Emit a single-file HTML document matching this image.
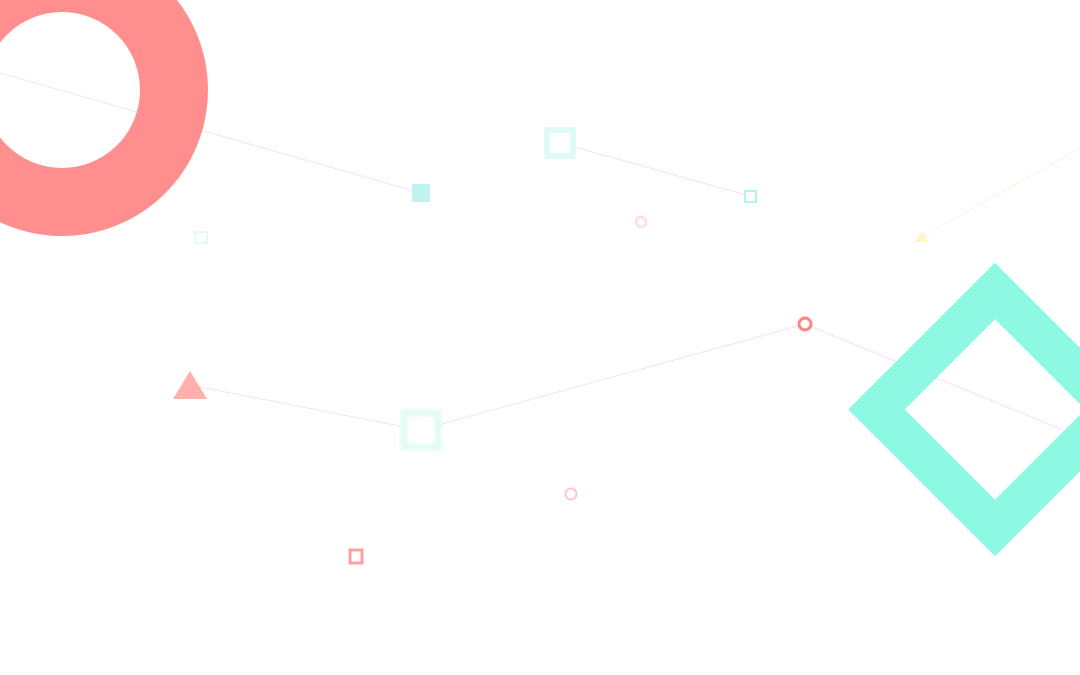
<!DOCTYPE html>
<html><head><style>html,body{margin:0;padding:0;background:#fff;}svg{display:block}</style></head>
<body>
<svg width="1080" height="675" viewBox="0 0 1080 675" xmlns="http://www.w3.org/2000/svg">
<defs><filter id="b" x="-50%" y="-50%" width="200%" height="200%"><feGaussianBlur stdDeviation="1.5"/></filter></defs>
<g stroke="#f8def8" stroke-width="1" fill="none">
<line x1="0" y1="73" x2="421" y2="193"/>
<line x1="560" y1="143" x2="750" y2="196"/>
<line x1="922" y1="237" x2="1080" y2="148" stroke="#fbf3e4"/>
<polyline points="190,385 420,430 805,324 1075,435"/>
</g>
<circle cx="62" cy="90" r="112" fill="none" stroke="#ff8f8f" stroke-width="68"/>
<polygon points="995,291 1113.5,409.5 995,528 876.5,409.5" fill="none" stroke="#8ef9e2" stroke-width="40"/>
<rect x="412" y="184" width="18" height="18" rx="1" fill="#c0f3ef"/>
<rect x="547" y="130" width="26" height="26" fill="#fff" stroke="#e0fbf6" stroke-width="6"/>
<rect x="745" y="191" width="11" height="11" fill="#fff" stroke="#b0f5e8" stroke-width="2"/>
<circle cx="641" cy="222" r="5" fill="none" stroke="#fde3df" stroke-width="3"/>
<rect x="195" y="232" width="12" height="11" fill="none" stroke="#d8f8f2" stroke-width="1.5"/>
<polygon points="922,231 929,242 915,242" fill="#fdf6c8"/>
<circle cx="805" cy="324" r="6" fill="#fff" stroke="#ff8585" stroke-width="3"/>
<polygon points="190,371 207,399 173,399" fill="#ffb0ab"/>
<rect x="404" y="413" width="34" height="34" fill="#fff" stroke="#e2fcf5" stroke-width="7" filter="url(#b)"/>
<circle cx="571" cy="494" r="5.5" fill="none" stroke="#ffc8cc" stroke-width="2"/>
<rect x="350" y="550" width="12" height="13" fill="none" stroke="#ffa0a0" stroke-width="3"/>
</svg>
</body></html>
